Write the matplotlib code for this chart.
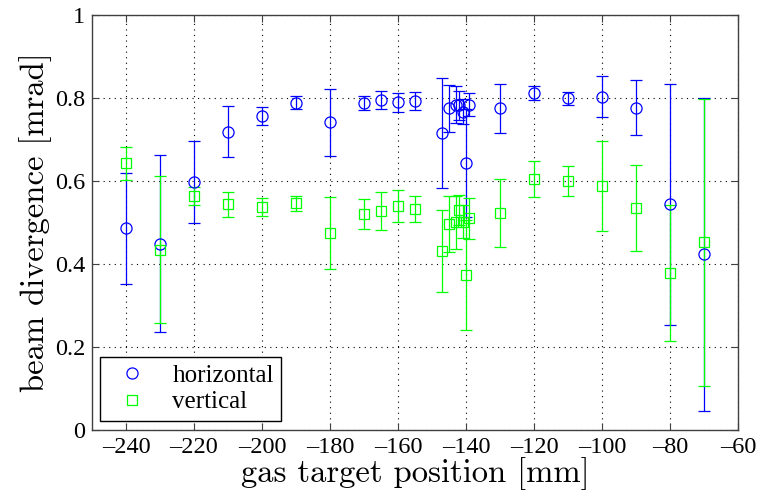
import numpy as np
import matplotlib.pyplot as plt
from matplotlib.lines import Line2D

plt.rcParams['font.family'] = ['Liberation Serif', 'DejaVu Serif']

# gas target position [mm]
pos = [-240, -230, -220, -210, -200, -190, -180, -170, -165, -160, -155,
       -147, -145, -143, -142, -141, -140, -139,
       -130, -120, -110, -100, -90, -80, -70]

# horizontal divergence and error [mrad]
horiz = [0.486, 0.449, 0.598, 0.719, 0.757, 0.789, 0.741, 0.787, 0.795, 0.790, 0.793,
         0.715, 0.775, 0.784, 0.782, 0.767, 0.644, 0.784,
         0.775, 0.813, 0.799, 0.803, 0.777, 0.544, 0.424]
horiz_err = [0.134, 0.214, 0.099, 0.062, 0.021, 0.015, 0.080, 0.017, 0.022, 0.023, 0.021,
             0.133, 0.056, 0.045, 0.035, 0.030, 0.130, 0.028,
             0.059, 0.017, 0.016, 0.050, 0.067, 0.290, 0.377]

# vertical divergence and error [mrad]
vert = [0.643, 0.434, 0.564, 0.544, 0.537, 0.546, 0.475, 0.520, 0.528, 0.540, 0.532,
        0.431, 0.496, 0.500, 0.530, 0.502, 0.373, 0.510,
        0.523, 0.604, 0.600, 0.588, 0.535, 0.378, 0.452]
vert_err = [0.040, 0.177, 0.022, 0.030, 0.021, 0.018, 0.086, 0.036, 0.045, 0.038, 0.031,
            0.098, 0.068, 0.063, 0.036, 0.040, 0.133, 0.050,
            0.082, 0.043, 0.036, 0.108, 0.103, 0.164, 0.346]

fig = plt.figure(figsize=(7.6, 4.98), dpi=100)
ax = fig.add_axes([0.121, 0.1365, 0.850, 0.8335])

ax.errorbar(pos, horiz, yerr=horiz_err, fmt='o', color='#0000ff', mfc='none',
            ms=8, mew=0.9, elinewidth=0.9, capsize=4, capthick=0.9)
ax.errorbar(pos, vert, yerr=vert_err, fmt='s', color='#00ff00', mfc='none',
            ms=6.5, mew=0.9, elinewidth=0.9, capsize=4, capthick=0.9)

ax.set_xlim(-250, -60)
ax.set_ylim(0, 1)
xt = np.arange(-240, -59, 20)
ax.set_xticks(xt)
ax.set_xticklabels(['\u2013%d' % abs(t) for t in xt])
ax.set_yticks([0, 0.2, 0.4, 0.6, 0.8, 1])
ax.set_yticklabels(['0', '0.2', '0.4', '0.6', '0.8', '1'])
ax.grid(True, linestyle=(0, (1, 4)), color='k', linewidth=0.8)
ax.tick_params(direction='in', top=True, right=True, labelsize=17.5, length=5,
               color='#404040', pad=5)
for s in ax.spines.values():
    s.set_color('#404040')
    s.set_linewidth(1.0)

ax.set_xlabel('gas target position [mm]', fontsize=23.5, fontfamily='cmr10', labelpad=-1)
ax.set_ylabel('beam divergence [mrad]', fontsize=23.5, fontfamily='cmr10', labelpad=2)

handles = [Line2D([], [], marker='o', ls='none', color='#0000ff', mfc='none', ms=8, mew=0.9),
           Line2D([], [], marker='s', ls='none', color='#00ff00', mfc='none', ms=6.5, mew=0.9)]
leg = ax.legend(handles, ['horizontal', 'vertical'], loc='lower left', fontsize=18,
                fancybox=False, framealpha=1, edgecolor='k', borderpad=0.3,
                labelspacing=0.15, handletextpad=0.6, handlelength=2.0,
                borderaxespad=0, bbox_to_anchor=(0.012, 0.022))
leg.get_frame().set_linewidth(1.0)

fig.savefig('out.png', dpi=100)
